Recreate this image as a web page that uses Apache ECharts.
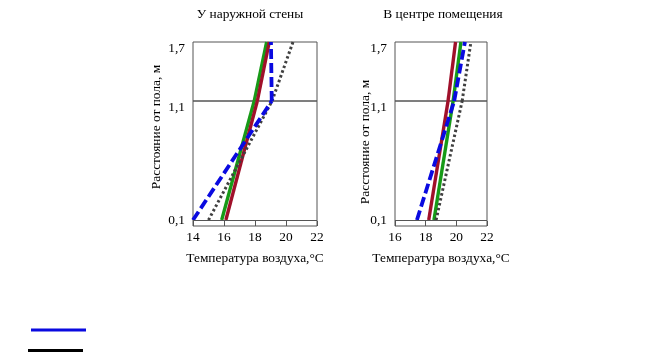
<!DOCTYPE html>
<html><head><meta charset="utf-8">
<script src="https://cdn.jsdelivr.net/npm/echarts@6/dist/echarts.min.js"></script>
<style>html,body{margin:0;padding:0;background:#fff}#c{width:647px;height:352px}</style>
</head><body><div id="c"></div>
<script>
// Heights above the floor, m
const heights = [0.1, 1.1, 1.7];
const heightTicks = [0.1, 1.1, 1.7];
// Chart 1: near the outer wall, air temperature °C at each height
const wallBlue   = [14.0, 19.08, 19.03];
const wallGreen  = [15.85, 17.95, 18.75];
const wallRed    = [16.12, 18.15, 18.92];
const wallDotted = [15.0, 19.1, 20.45];
// Chart 2: in the centre of the room
const centerBlue   = [17.43, 19.86, 20.56];
const centerGreen  = [18.54, 19.79, 20.3];
const centerRed    = [18.2, 19.46, 19.95];
const centerDotted = [18.68, 20.38, 20.95];

const titles = ['У наружной стены', 'В центре помещения'];
const yName = 'Расстояние от пола, м';
const xName = 'Температура воздуха,°C';
const seriesNames = ['Серия 1', 'Серия 2', 'Серия 3', 'Серия 4'];

const FONT = "'Liberation Serif','Times New Roman',serif";
const FS = 13.4;
const styles = {
  'Серия 1': {color: '#0a0ae0', width: 3.8, type: [10, 4]},
  'Серия 2': {color: '#179a17', width: 3.4, type: 'solid'},
  'Серия 3': {color: '#a0102a', width: 3.4, type: 'solid'},
  'Серия 4': {color: '#404040', width: 3, type: [2.5, 2.5]}
};
const charts = [
  {curves: [wallGreen, wallRed, wallDotted, wallBlue], xmin: 14, xmax: 22, left: 193, width: 124},
  {curves: [centerGreen, centerRed, centerDotted, centerBlue], xmin: 16, xmax: 22, left: 395, width: 92}
];
const order = ['Серия 2', 'Серия 3', 'Серия 4', 'Серия 1'];

const grid = [], xAxis = [], yAxis = [], series = [];
const fmt = v => (Math.round(v * 10) / 10).toFixed(1).replace('.', ',');
charts.forEach((ch, ci) => {
  const gU = grid.length;
  grid.push({left: ch.left, top: 42, width: ch.width, height: 59, show: true, borderColor: '#555', borderWidth: 1});
  grid.push({left: ch.left, top: 101, width: ch.width, height: 125, show: true, borderColor: '#555', borderWidth: 1});
  const gL = gU + 1;
  xAxis.push({gridIndex: gU, type: 'value', min: ch.xmin, max: ch.xmax, show: false});
  xAxis.push({gridIndex: gL, type: 'value', min: ch.xmin, max: ch.xmax, interval: 2,
    axisLine: {show: false}, splitLine: {show: false},
    axisTick: {inside: true, length: 5, lineStyle: {color: '#555'}},
    axisLabel: {color: '#000', fontFamily: FONT, fontSize: FS, margin: 5},
    name: xName, nameLocation: 'middle', nameGap: 26,
    nameTextStyle: {color: '#000', fontFamily: FONT, fontSize: FS}});
  yAxis.push({gridIndex: gU, type: 'value', min: heightTicks[1], max: heightTicks[2],
    axisLine: {show: false}, axisTick: {show: false}, splitLine: {show: false},
    axisLabel: {customValues: [heightTicks[1], heightTicks[2]], formatter: fmt, color: '#000',
      fontFamily: FONT, fontSize: FS, margin: 8, verticalAlign: 'top'}});
  yAxis.push({gridIndex: gL, type: 'value', min: 0.05, max: heightTicks[1],
    axisLine: {show: false}, axisTick: {show: false}, splitLine: {show: false},
    axisLabel: {customValues: [heightTicks[0]], formatter: fmt, color: '#000',
      fontFamily: FONT, fontSize: FS, margin: 8}});
  order.forEach((name, k) => {
    const T = ch.curves[k];
    const st = styles[name];
    const base = {name, type: 'line', symbol: 'none', silent: true,
      itemStyle: {color: st.color},
      lineStyle: {color: st.color, width: st.width, type: st.type}};
    series.push(Object.assign({}, base, {xAxisIndex: gU, yAxisIndex: gU,
      data: [[T[1], heights[1]], [T[2], heights[2]]]}));
    const lower = Object.assign({}, base, {xAxisIndex: gL, yAxisIndex: gL,
      data: [[T[0], heights[0]], [T[1], heights[1]]]});
    if (k === 0) {
      lower.markLine = {silent: true, symbol: 'none', label: {show: false},
        lineStyle: {color: '#555', width: 1, type: 'solid'},
        data: [{yAxis: heightTicks[0]}]};
    }
    series.push(lower);
  });
});

const chart = echarts.init(document.getElementById('c'), null, {renderer: 'canvas'});
const legendBase = {orient: 'vertical', padding: 0, itemWidth: 55, itemHeight: 3,
  icon: 'rect', formatter: () => '', selectedMode: false};
chart.setOption({
  animation: false,
  backgroundColor: '#fff',
  textStyle: {fontFamily: FONT},
  title: [
    {text: titles[0], left: 250, top: 8, padding: 0, textAlign: 'center',
      textStyle: {fontFamily: FONT, fontSize: FS, fontWeight: 'normal', color: '#000'}},
    {text: titles[1], left: 443, top: 8, padding: 0, textAlign: 'center',
      textStyle: {fontFamily: FONT, fontSize: FS, fontWeight: 'normal', color: '#000'}}
  ],
  legend: [
    Object.assign({}, legendBase, {left: 31, top: 328.5,
      data: [{name: seriesNames[0], itemStyle: {color: '#0a0ae0'}}]}),
    Object.assign({}, legendBase, {left: 28, top: 349,
      data: [{name: seriesNames[3], itemStyle: {color: '#000'}}]})
  ],
  graphic: [
    {type: 'text', x: 156, y: 127, rotation: Math.PI / 2,
      style: {text: yName, fill: '#000', font: FS + 'px ' + FONT, align: 'center', verticalAlign: 'middle'}},
    {type: 'text', x: 365, y: 142, rotation: Math.PI / 2,
      style: {text: yName, fill: '#000', font: FS + 'px ' + FONT, align: 'center', verticalAlign: 'middle'}}
  ],
  grid, xAxis, yAxis, series
});
</script>
</body></html>
